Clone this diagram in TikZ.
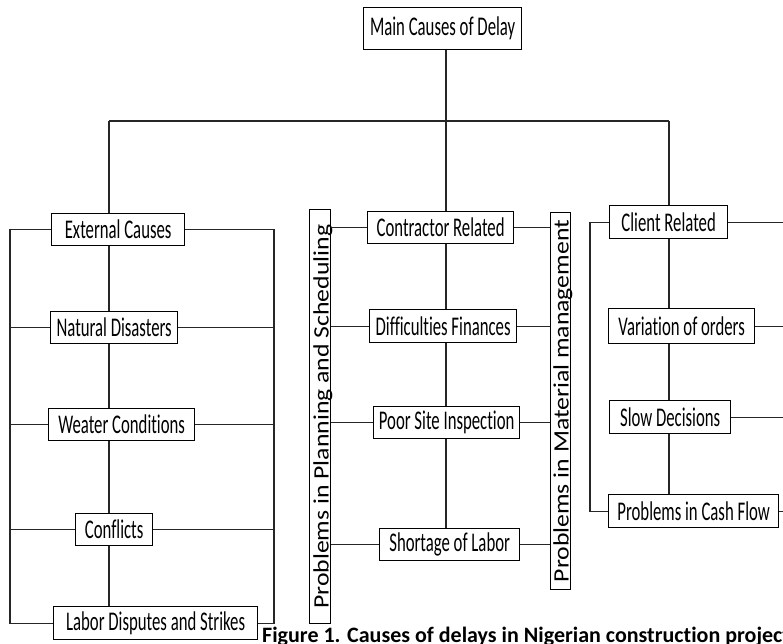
\documentclass[tikz,border=0pt]{standalone}
\usepackage{fontspec}
\setmainfont[Ligatures=NoCommon]{Carlito}
\newfontfamily\boxfont[FakeStretch=0.62, Ligatures=NoCommon]{Carlito}
\newfontfamily\sidefont[FakeStretch=1.17, Ligatures=NoCommon]{Carlito}

\begin{document}
\begin{tikzpicture}[x=1pt, y=-1pt,
  cause/.style={draw, line width=1.3pt, inner sep=0pt, anchor=north west,
    font=\boxfont\fontsize{27}{32}\selectfont},
  side/.style={draw, line width=1.3pt, inner sep=0pt, anchor=north west,
    font=\sidefont\fontsize{22}{26}\selectfont},
  link/.style={line width=1.1pt, black!85}]

\useasboundingbox (0,0) rectangle (783,644);
\clip (0,0) rectangle (783,644);

% top
\node[cause, minimum width=158pt, minimum height=42pt] (main) at (363,7) {Main Causes of Delay};

% external causes
\node[cause, minimum width=133pt, minimum height=32pt] (ext) at (51,213) {External Causes};
\node[cause, minimum width=127pt, minimum height=32pt] (nat) at (50,311) {Natural Disasters};
\node[cause, minimum width=146pt, minimum height=32pt] (wea) at (48,408) {Weater Conditions};
\node[cause, minimum width=77pt, minimum height=32pt] (con) at (75,513) {Conflicts};
\node[cause, minimum width=204pt, minimum height=33pt] (lab) at (53,606) {Labor Disputes and Strikes};

% contractor related
\node[side, minimum width=21pt, minimum height=414pt] (pps) at (309,209)
  {\rotatebox{90}{\raisebox{0pt}[19pt][2pt]{Problems in Planning and Scheduling}}};
\node[side, minimum width=20pt, minimum height=377pt] (pmm) at (550,212)
  {\rotatebox{90}{\raisebox{0pt}[18pt][2pt]{Problems in Material management}}};
\node[cause, minimum width=146pt, minimum height=32pt] (ctr) at (367,211) {Contractor Related};
\node[cause, minimum width=147pt, minimum height=33pt] (fin) at (369,309) {Difficulties Finances};
\node[cause, minimum width=146pt, minimum height=32pt] (ins) at (373,406) {Poor Site Inspection};
\node[cause, minimum width=140pt, minimum height=32pt] (sho) at (379,528) {Shortage of Labor};

% client related
\node[cause, minimum width=118pt, minimum height=33pt] (cli) at (609,205) {Client Related};
\node[cause, minimum width=146pt, minimum height=35pt] (var) at (608,308) {Variation of orders};
\node[cause, minimum width=121pt, minimum height=33pt] (slo) at (609,400) {Slow Decisions};
\node[cause, minimum width=170pt, minimum height=33pt] (cas) at (608,494) {Problems in Cash Flow};

\node[anchor=base west, inner sep=0pt, font=\bfseries\fontsize{22}{26}\selectfont] (caption)
  at (262,642) {Figure 1. Causes of delays in Nigerian construction project};

\coordinate (busL) at (109,121);
\coordinate (busM) at (446,121);
\coordinate (busR) at (669,121);
\coordinate (spL) at (10,0);
\coordinate (spR) at (274,0);
\coordinate (spC) at (590,0);
\coordinate (edge) at (790,0);

\draw[link] (busL) -- (busR);
\draw[link] (main.south -| busM) -- (busM);

\draw[link] (busL) -- (busL |- ext.north);
\foreach \a/\b in {ext/nat, nat/wea, wea/con, con/lab}
  \draw[link] (busL |- \a.south) -- (busL |- \b.north);
\draw[link] (ext.west) -- (spL |- ext.west) -- (spL |- lab.west) -- (lab.west);
\draw[link] (ext.east) -- (spR |- ext.east) -- (spR |- lab.east) -- (lab.east);
\foreach \n in {nat, wea, con} {
  \draw[link] (spL |- \n.west) -- (\n.west);
  \draw[link] (\n.east) -- (spR |- \n.east);
}

\draw[link] (busM) -- (busM |- ctr.north);
\foreach \a/\b in {ctr/fin, fin/ins, ins/sho}
  \draw[link] (busM |- \a.south) -- (busM |- \b.north);
\foreach \n in {ctr, fin, ins, sho} {
  \draw[link] (pps.east |- \n.west) -- (\n.west);
  \draw[link] (\n.east) -- (pmm.west |- \n.east);
}

\draw[link] (busR) -- (busR |- cli.north);
\foreach \a/\b in {cli/var, var/slo, slo/cas}
  \draw[link] (busR |- \a.south) -- (busR |- \b.north);
\draw[link] (cli.west) -- (spC |- cli.west) -- (spC |- cas.west) -- (cas.west);
\foreach \n in {cli, var, slo, cas}
  \draw[link] (\n.east) -- (edge |- \n.east);

\end{tikzpicture}
\end{document}
